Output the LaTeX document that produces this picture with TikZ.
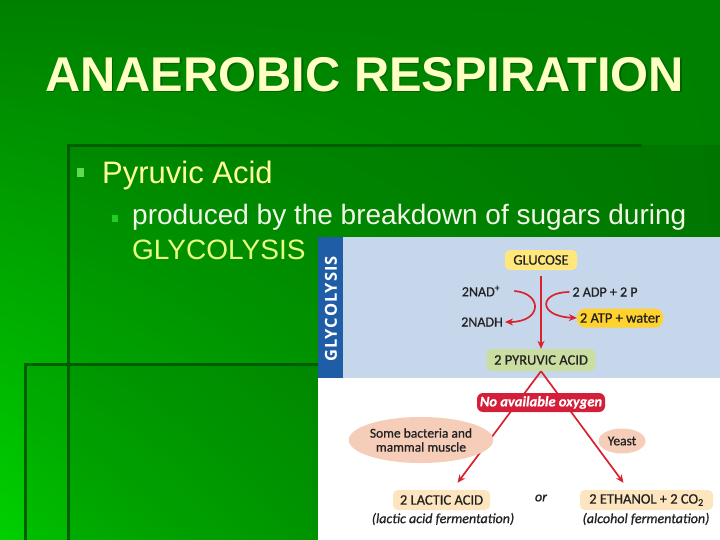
\documentclass[tikz,border=0pt]{standalone}
\usepackage{fontspec}
\setmainfont{Liberation Sans}
\newfontfamily\diagfont[FakeBold=0.8]{Carlito}
\newfontfamily\stripfont[LetterSpace=6]{Open Sans}
\usepackage{tikz}
\usetikzlibrary{arrows.meta, calc, shapes.geometric, shadings}

\definecolor{slidetop}{HTML}{008000}
\definecolor{slidelow}{HTML}{00D000}
\definecolor{edgegreen}{HTML}{005E00}
\definecolor{titlecream}{HTML}{FFFFC4}
\definecolor{bulletyellow}{HTML}{FFFF99}
\definecolor{subwhite}{HTML}{F2F7E8}
\definecolor{glyyellow}{HTML}{E8FF80}
\definecolor{bulletgreen}{HTML}{5EDC4E}
\definecolor{subbullet}{HTML}{22CC22}
\definecolor{paleblue}{HTML}{C7D7EB}
\definecolor{stripblue}{HTML}{1F5EA7}
\definecolor{glucoseyellow}{HTML}{FFE77C}
\definecolor{atpyellow}{HTML}{FFD22E}
\definecolor{pyrgreen}{HTML}{CADEA2}
\definecolor{boxred}{HTML}{D41E3A}
\definecolor{arrowred}{HTML}{D8232F}
\definecolor{ovalpink}{HTML}{F6CDB8}
\definecolor{prodcream}{HTML}{FDE6BF}
\definecolor{inkgray}{HTML}{222222}

\begin{document}
\begin{tikzpicture}[x=1pt, y=-1pt,
    box/.style = {rounded corners=5pt, inner sep=0pt, text=inkgray, font=\diagfont\fontsize{14.5}{15}\selectfont},
    lbl/.style = {inner sep=0pt, text=inkgray, font=\diagfont\fontsize{14}{15}\selectfont},
    note/.style = {inner sep=0pt, text=inkgray, font=\diagfont\itshape\fontsize{14}{15}\selectfont},
    oval/.style = {ellipse, fill=ovalpink, inner sep=0pt, align=center, text=inkgray, font=\diagfont\fontsize{13.5}{14}\selectfont},
    redarrow/.style = {draw=arrowred, line width=1.7pt, -{Stealth[length=8pt, width=7pt]}}]

    \useasboundingbox (0,0) rectangle (720,540);

    % slide background
    \shade[upper left=slidetop, upper right=slidetop, lower right=slidetop, lower left=slidelow] (0,0) rectangle (720,540);
    \fill[black, opacity=0.07] (68,145) rectangle (720,540);
    \fill[black, opacity=0.07] (25,363) rectangle (320,540);
    \draw[edgegreen, line width=3pt] (642,146) -- (68,146) -- (68,540);
    \draw[edgegreen, line width=3pt] (318,364) -- (25,364) -- (25,540);

    % title and bullets
    \node[text=edgegreen!70!black, opacity=0.5, font=\bfseries\fontsize{48.8}{50}\selectfont] at (366,76) {ANAEROBIC RESPIRATION};
    \node[text=titlecream, font=\bfseries\fontsize{48.8}{50}\selectfont] (title) at (364.5,74.5) {ANAEROBIC RESPIRATION};

    \fill[bulletgreen] (77,168) rectangle (84,177);
    \node[anchor=base west, inner sep=0pt, text=bulletyellow, font=\fontsize{31}{34}\selectfont] (pyruvic) at (102,184) {Pyruvic Acid};
    \fill[subbullet] (112,215) rectangle (118,222);
    \node[anchor=base west, inner sep=0pt, text=subwhite, font=\fontsize{28}{30}\selectfont] (produced) at (132,225) {produced by the breakdown of sugars during};
    \node[anchor=base west, inner sep=0pt, text=glyyellow, font=\fontsize{28}{30}\selectfont] (glyword) at (132,259) {GLYCOLYSIS};

    % figure panel
    \fill[paleblue] (318,237) rectangle (720,378);
    \fill[white] (318,378) rectangle (720,540);
    \fill[stripblue] (318,237) rectangle (343,378);
    \node[rotate=90, text=white, font=\stripfont\bfseries\fontsize{16.5}{17}\selectfont] (strip) at (331,309) {GLYCOLYSIS};

    % glycolysis steps
    \node[box, fill=glucoseyellow, minimum width=72pt, minimum height=20pt] (glucose) at (541,260) {GLUCOSE};
    \node[box, fill=pyrgreen, minimum width=109pt, minimum height=22pt] (pyr) at (541,360) {2 PYRUVIC ACID};
    \node[lbl] (nad) at (481,291) {2NAD\textsuperscript{+}};
    \node[lbl] (nadh) at (482,322) {2NADH};
    \node[lbl] (adp) at (605,292) {2 ADP + 2 P};
    \node[box, fill=atpyellow, rounded corners=8pt, minimum width=86pt, minimum height=19pt] (atp) at (620,318) {2 ATP + water};

    \draw[redarrow, shorten <=6pt] (glucose.south) -- (pyr.north);
    \draw[redarrow] ([xshift=14pt]nad.east) .. controls +(28,2) and +(38,0) .. ([xshift=2pt]nadh.east);
    \draw[redarrow] ([xshift=-3pt]adp.west) .. controls +(-30,0) and +(-40,-2) .. (atp.west);

    % fermentation branches
    \node[box, fill=prodcream, minimum width=97pt, minimum height=20pt] (lactic) at (441.5,500) {2 LACTIC ACID};
    \node[box, fill=prodcream, minimum width=133pt, minimum height=20pt] (ethanol) at (646.5,500) {2 ETHANOL + 2 CO\textsubscript{2}};
    \draw[redarrow] (pyr.south) -- ([xshift=16pt, yshift=7pt]lactic.north);
    \draw[redarrow] (pyr.south) -- ([xshift=-23pt, yshift=7pt]ethanol.north);
    \node[box, fill=boxred, text=white, rounded corners=6pt, minimum width=128pt, minimum height=19pt, font=\diagfont\bfseries\itshape\fontsize{14.5}{15}\selectfont] (nooxygen) at (541,402.5) {No available oxygen};

    \node[oval, minimum width=117pt, minimum height=46pt] (bacteria) at (421,440) {Some bacteria and\\mammal muscle};
    \node[oval, minimum width=47pt, minimum height=25pt] (yeast) at (622,441) {Yeast};

    \node[note] (or) at (541,498) {or};
    \node[note] (lacticnote) at (443,519) {(lactic acid fermentation)};
    \node[note] (alcoholnote) at (646,519) {(alcohol fermentation)};
\end{tikzpicture}
\end{document}
